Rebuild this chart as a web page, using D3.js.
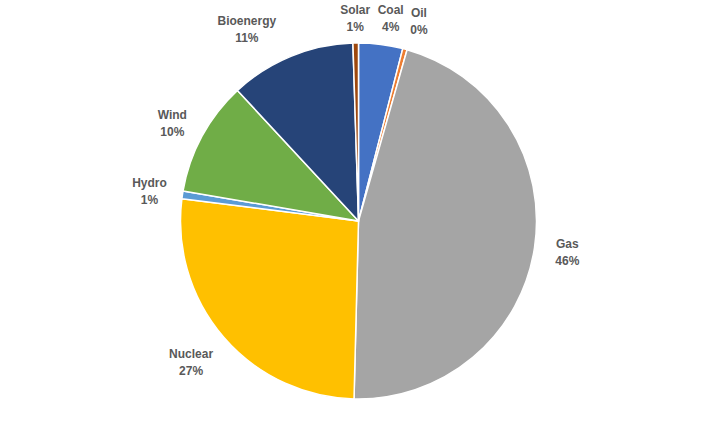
<!DOCTYPE html>
<html><head><meta charset="utf-8">
<script src="https://cdn.jsdelivr.net/npm/d3@7"></script>
<style>body{margin:0;background:#fff}svg{display:block}</style>
</head><body>
<script>
const categories = ["Coal","Oil","Gas","Nuclear","Hydro","Wind","Bioenergy","Solar"];
const values = [4.0, 0.4, 46.0, 26.6, 0.7, 10.4, 11.4, 0.5];
const colors = ["#4472C4","#ED7D31","#A5A5A5","#FFC000","#5B9BD5","#70AD47","#264478","#9E480E"];
const W=720,H=443, cx=358.5, cy=221, R=178;
const nudge = {Solar:[0,9],Coal:[6,7],Oil:[7,5],Bioenergy:[-26,4],Wind:[-1,3],Hydro:[2,2],Nuclear:[-2,4],Gas:[3,0]};
const data = categories.map((c,i)=>({name:c,value:values[i],color:colors[i]}));
const svg = d3.select("body").append("svg").attr("width",W).attr("height",H);
const g = svg.append("g").attr("transform",`translate(${cx},${cy})`);
const pie = d3.pie().value(d=>d.value).sort(null);
const arc = d3.arc().innerRadius(0).outerRadius(R);
const arcs = pie(data);
g.selectAll("path").data(arcs).join("path").attr("d",arc).attr("fill",d=>d.data.color)
  .attr("stroke","#fff").attr("stroke-width",1.5).attr("stroke-linejoin","round");
const fmt = d3.format(".0f");
const lr = R+18;
arcs.forEach(a=>{
  const t=(a.startAngle+a.endAngle)/2, s=Math.sin(t), c=-Math.cos(t);
  const lab = g.append("text").attr("text-anchor","middle")
    .style("font-family","'Liberation Sans',Arial,sans-serif").style("font-size","12px")
    .style("font-weight","bold").attr("fill","#595959");
  lab.append("tspan").attr("x",0).attr("dy",0).text(a.data.name);
  lab.append("tspan").attr("x",0).attr("dy",17).text(fmt(a.data.value)+"%");
  const bb = lab.node().getBBox();
  const w=bb.width, h=bb.height;
  const px = lr*s + (w/2)*s, py = lr*c + (h/2)*c;
  const n = nudge[a.data.name]||[0,0];
  const x = px + n[0], y = py + n[1];
  lab.attr("transform",`translate(${x},${y - (bb.y + h/2)})`);
});
</script>
</body></html>
